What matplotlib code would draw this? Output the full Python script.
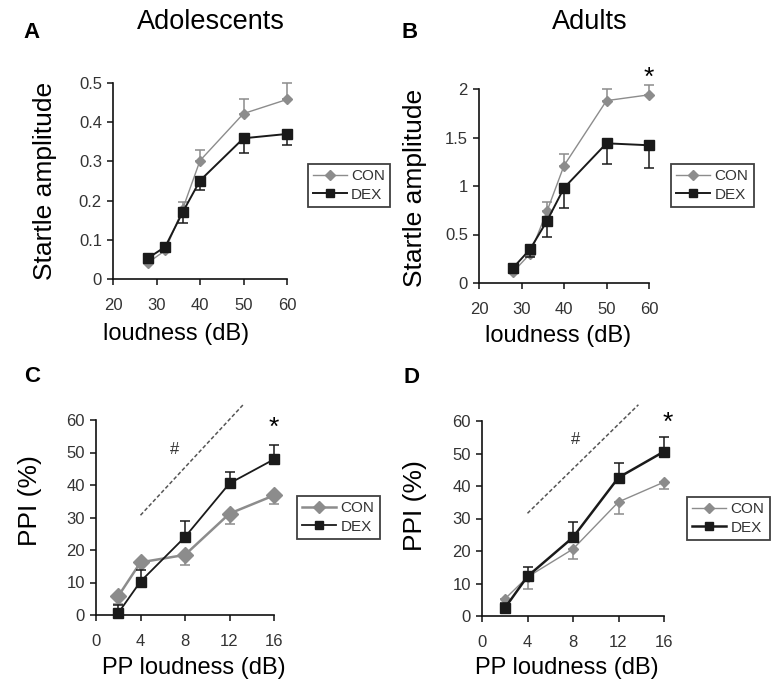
import matplotlib
matplotlib.use("Agg")
import matplotlib.pyplot as plt
from matplotlib.lines import Line2D

plt.rcParams['font.family'] = ['Liberation Sans', 'DejaVu Sans']

# ---- data ----
x_startle = [28, 32, 36, 40, 50, 60]
adol_con = [0.041, 0.073, 0.178, 0.302, 0.422, 0.458]
adol_con_err = [0.005, 0.008, 0.018, 0.026, 0.036, 0.042]
adol_dex = [0.053, 0.082, 0.170, 0.251, 0.359, 0.370]
adol_dex_err = [0.005, 0.008, 0.028, 0.025, 0.038, 0.029]

adult_con = [0.113, 0.30, 0.74, 1.21, 1.88, 1.94]
adult_con_err = [0.02, 0.04, 0.09, 0.12, 0.12, 0.10]
adult_dex = [0.155, 0.347, 0.64, 0.98, 1.44, 1.42]
adult_dex_err = [0.02, 0.08, 0.17, 0.21, 0.21, 0.23]

x_pp = [2, 4, 8, 12, 16]
ppi_adol_con = [5.8, 16.2, 18.5, 31.2, 36.8]
ppi_adol_con_err = [2.5, 1.0, 3.0, 3.2, 2.5]
ppi_adol_dex = [0.6, 10.3, 24.0, 40.5, 47.9]
ppi_adol_dex_err = [2.4, 3.6, 4.8, 3.4, 4.3]

ppi_adult_con = [5.2, 12.0, 20.6, 35.1, 41.2]
ppi_adult_con_err = [1.5, 3.7, 3.1, 3.8, 2.0]
ppi_adult_dex = [2.4, 12.2, 24.2, 42.6, 50.6]
ppi_adult_dex_err = [1.5, 2.8, 4.6, 4.5, 4.4]

startle_ticks = [20, 30, 40, 50, 60]
pp_ticks = [0, 4, 8, 12, 16]

CON_COLOR = '#8c8c8c'
DEX_COLOR = '#1a1a1a'
TICK_COLOR = '#333333'

fig = plt.figure(figsize=(7.84, 6.89), dpi=100)
W, H = 784, 689


def fx(px):
    return px / W


def fy(py):
    return 1 - py / H


def add_ax(l, r, t, b):
    return fig.add_axes([l / W, 1 - b / H, (r - l) / W, (b - t) / H])


def style(ax, xlim, ylim, xticks, yticks, yfmt):
    ax.set_xlim(*xlim)
    ax.set_ylim(*ylim)
    for s in ['top', 'right']:
        ax.spines[s].set_visible(False)
    for s in ['left', 'bottom']:
        ax.spines[s].set_linewidth(1.2)
        ax.spines[s].set_color('#111111')
    ax.set_xticks(xticks)
    ax.set_yticks(yticks)
    ax.set_yticklabels([yfmt(v) for v in yticks])
    ax.tick_params(direction='out', length=4, width=1.1, labelsize=12,
                   labelcolor=TICK_COLOR, color='#111111')
    ax.tick_params(axis='x', pad=10)
    ax.tick_params(axis='y', pad=4)


def plot_pair(ax, x, con, con_err, dex, dex_err, con_up, con_ms, con_lw, dex_lw):
    zeros = [0] * len(con)
    con_yerr = [zeros, con_err] if con_up else [con_err, zeros]
    dex_yerr = [dex_err, zeros] if con_up else [zeros, dex_err]
    ax.errorbar(x, con, yerr=con_yerr, color=CON_COLOR, marker='D',
                ms=con_ms, lw=con_lw, capsize=3.5, elinewidth=1.1, capthick=1.1,
                clip_on=False, zorder=3)
    ax.errorbar(x, dex, yerr=dex_yerr, color=DEX_COLOR, marker='s',
                ms=6.5, lw=dex_lw, capsize=3.5, elinewidth=1.1, capthick=1.1,
                clip_on=False, zorder=4)
    return con_ms, con_lw, dex_lw


def legend(ax, l, r, t, b, con_ms, con_lw, dex_lw):
    handles = [Line2D([], [], color=CON_COLOR, marker='D', ms=min(con_ms, 6.5), lw=con_lw),
               Line2D([], [], color=DEX_COLOR, marker='s', ms=6, lw=dex_lw)]
    bb = (l / W, 1 - b / H, (r - l) / W, (b - t) / H)
    leg = ax.legend(handles, ['CON', 'DEX'], loc='center', bbox_to_anchor=bb,
                    bbox_transform=fig.transFigure,
                    fontsize=11, frameon=True, fancybox=False, handlelength=2.2,
                    handletextpad=0.3, borderpad=0.35, labelspacing=0.3,
                    borderaxespad=0)
    leg.get_frame().set_edgecolor('#111111')
    leg.get_frame().set_linewidth(1.3)
    for t in leg.get_texts():
        t.set_color(TICK_COLOR)


def fmt_dec(v):
    return '0' if v == 0 else ('%g' % v)


def ylabel(txt, x, y, size=19):
    fig.text(fx(x), fy(y), txt, rotation=90, ha='center', va='center', fontsize=size)


def xlabel(txt, x, y, size=17):
    fig.text(fx(x), fy(y), txt, ha='center', va='center', fontsize=size)


# Panel A
axA = add_ax(113, 287, 83, 279)
p = plot_pair(axA, x_startle, adol_con, adol_con_err, adol_dex, adol_dex_err,
              True, 5, 1.0, 1.4)
style(axA, (20, 60), (0, 0.5), startle_ticks, [0, 0.1, 0.2, 0.3, 0.4, 0.5], fmt_dec)
legend(axA, 311, 387, 163, 208, *p)
ylabel('Startle amplitude', 45, 181)
xlabel('loudness (dB)', 176, 334)

# Panel B
axB = add_ax(479, 649, 89, 283)
p = plot_pair(axB, x_startle, adult_con, adult_con_err, adult_dex, adult_dex_err,
              True, 5, 1.0, 1.4)
style(axB, (20, 60), (0, 2), startle_ticks, [0, 0.5, 1, 1.5, 2], fmt_dec)
legend(axB, 674, 751, 163, 208, *p)
ylabel('Startle amplitude', 415, 188)
xlabel('loudness (dB)', 558, 336)
axB.text(60, 2.12, '*', ha='center', va='center', fontsize=19)

# Panel C
axC = add_ax(96, 274, 420, 615)
p = plot_pair(axC, x_pp, ppi_adol_con, ppi_adol_con_err, ppi_adol_dex, ppi_adol_dex_err,
              False, 8, 1.8, 1.3)
style(axC, (0, 16), (0, 60), pp_ticks, [0, 10, 20, 30, 40, 50, 60], fmt_dec)
legend(axC, 300, 377, 496, 539, *p)
ylabel('PPI (%)', 30, 501)
xlabel('PP loudness (dB)', 194, 668)
axC.plot([4, 13.2], [30.7, 64.6], ls=(0, (2.5, 1.5)), color='#555555', lw=1.1, clip_on=False)
axC.text(7.1, 50.8, '#', ha='center', va='center', fontsize=12, color='#333333')
axC.text(16, 57.5, '*', ha='center', va='center', fontsize=19)

# Panel D
axD = add_ax(482, 664, 421, 616)
p = plot_pair(axD, x_pp, ppi_adult_con, ppi_adult_con_err, ppi_adult_dex, ppi_adult_dex_err,
              False, 5, 1.0, 1.8)
style(axD, (0, 16), (0, 60), pp_ticks, [0, 10, 20, 30, 40, 50, 60], fmt_dec)
legend(axD, 689, 768, 497, 540, *p)
ylabel('PPI (%)', 415, 506)
xlabel('PP loudness (dB)', 567, 668)
axD.plot([4, 13.75], [31.6, 65], ls=(0, (2.5, 1.5)), color='#555555', lw=1.1, clip_on=False)
axD.text(8.2, 54.3, '#', ha='center', va='center', fontsize=12, color='#333333')
axD.text(16.3, 59.5, '*', ha='center', va='center', fontsize=19)

# Titles and panel letters
fig.text(fx(211), fy(22), 'Adolescents', ha='center', va='center', fontsize=19.5)
fig.text(fx(590), fy(22), 'Adults', ha='center', va='center', fontsize=19.5)
for letter, x, y in [('A', 31, 33), ('B', 410, 33), ('C', 32, 376), ('D', 411, 378)]:
    fig.text(fx(x), fy(y), letter, ha='center', va='center', fontsize=16, fontweight='bold')

fig.savefig('out.png', dpi=100, facecolor='white')
